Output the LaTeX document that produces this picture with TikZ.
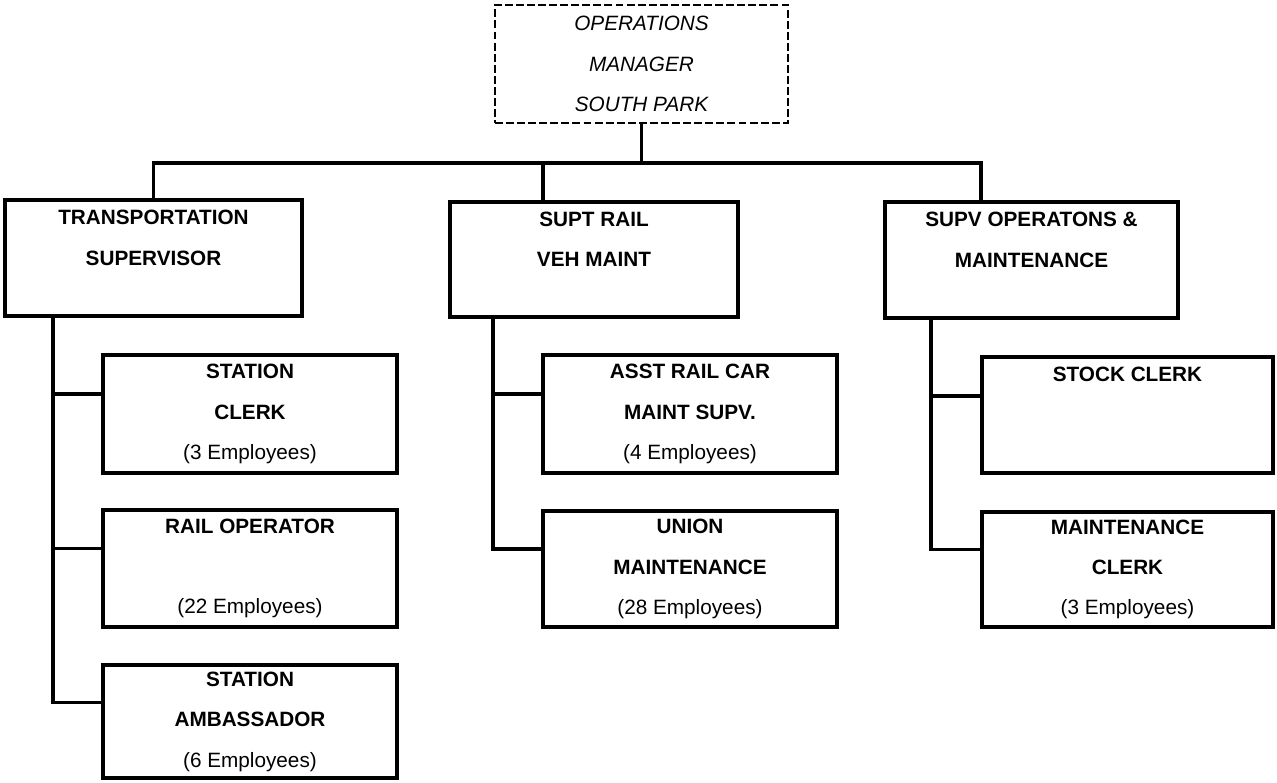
\documentclass[tikz,border=0pt]{standalone}
\usepackage{fontspec}
\setmainfont{Liberation Sans}
\newcommand\orgfont{\fontsize{11.8pt}{23pt}\selectfont}
\begin{document}
\begin{tikzpicture}[x=0.02cm,y=-0.02cm,
  box/.style={draw, line width=2.2pt, inner sep=0pt, align=center, font=\orgfont},
  headbox/.style={draw, line width=1.1pt, dash pattern=on 4.5pt off 1.8pt,
    inner sep=0pt, align=center, font=\orgfont\itshape},
  link/.style={line width=2.2pt, line cap=rect}]
\useasboundingbox (0,0) rectangle (1277,783);

% top of the chart
\node[headbox, minimum width=293*0.02cm, minimum height=118*0.02cm] (top) at (641.5,64)
  {OPERATIONS\\MANAGER\\SOUTH PARK};

% second level
\node[box, minimum width=297*0.02cm, minimum height=116*0.02cm] (trans) at (153.5,258)
  {\bfseries TRANSPORTATION\\\bfseries SUPERVISOR\\~};
\node[box, minimum width=288*0.02cm, minimum height=115*0.02cm] (supt) at (594,259.5)
  {\bfseries SUPT RAIL\\\bfseries VEH MAINT\\~};
\node[box, minimum width=293*0.02cm, minimum height=116*0.02cm] (supv) at (1031.5,260)
  {\bfseries SUPV OPERATONS \&\\\bfseries MAINTENANCE\\~};

% staff under the transportation supervisor
\node[box, minimum width=294*0.02cm, minimum height=118*0.02cm] (clerk) at (250,414)
  {\bfseries STATION\\\bfseries CLERK\\(3 Employees)};
\node[box, minimum width=294*0.02cm, minimum height=117*0.02cm] (railop) at (250,568.5)
  {\bfseries RAIL OPERATOR\\~\\(22 Employees)};
\node[box, minimum width=294*0.02cm, minimum height=113*0.02cm] (amb) at (250,721.5)
  {\bfseries STATION\\\bfseries AMBASSADOR\\(6 Employees)};

% staff under vehicle maintenance
\node[box, minimum width=294*0.02cm, minimum height=118*0.02cm] (asst) at (690,414)
  {\bfseries ASST RAIL CAR\\\bfseries MAINT SUPV.\\(4 Employees)};
\node[box, minimum width=294*0.02cm, minimum height=116*0.02cm] (union) at (690,569)
  {\bfseries UNION\\\bfseries MAINTENANCE\\(28 Employees)};

% staff under operations & maintenance
\node[box, minimum width=291*0.02cm, minimum height=116*0.02cm] (stock) at (1127.5,415)
  {\bfseries STOCK CLERK\\~\\~};
\node[box, minimum width=291*0.02cm, minimum height=115*0.02cm] (mclerk) at (1127.5,569.5)
  {\bfseries MAINTENANCE\\\bfseries CLERK\\(3 Employees)};

% bus below the manager
\coordinate (bus) at ([yshift=-39*0.02cm]top.south);
\coordinate (ms) at ([xshift=95*0.02cm]supt.north west);
\coordinate (rs) at ([xshift=98*0.02cm]supv.north west);
\draw[link] (top.south) -- (bus);
\draw[link] (trans.north) |- (bus) -| (rs);
\draw[link] (ms) -- (ms |- bus);

% left spine
\coordinate (ls) at ([xshift=50*0.02cm]trans.south west);
\coordinate (l1) at ([yshift=20*0.02cm]clerk.west);
\coordinate (l2) at ([yshift=20*0.02cm]railop.west);
\coordinate (l3) at ([yshift=19*0.02cm]amb.west);
\draw[link] (ls) |- (l3);
\draw[link] (l1) -- (l1 -| ls);
\draw[link] (l2) -- (l2 -| ls);

% middle spine
\coordinate (cs) at ([xshift=45*0.02cm]supt.south west);
\coordinate (c1) at ([yshift=20*0.02cm]asst.west);
\coordinate (c2) at ([yshift=20*0.02cm]union.west);
\draw[link] (cs) |- (c2);
\draw[link] (c1) -- (c1 -| cs);

% right spine
\coordinate (rsp) at ([xshift=48*0.02cm]supv.south west);
\coordinate (r1) at ([yshift=19*0.02cm]stock.west);
\coordinate (r2) at ([yshift=20*0.02cm]mclerk.west);
\draw[link] (rsp) |- (r2);
\draw[link] (r1) -- (r1 -| rsp);
\end{tikzpicture}
\end{document}
